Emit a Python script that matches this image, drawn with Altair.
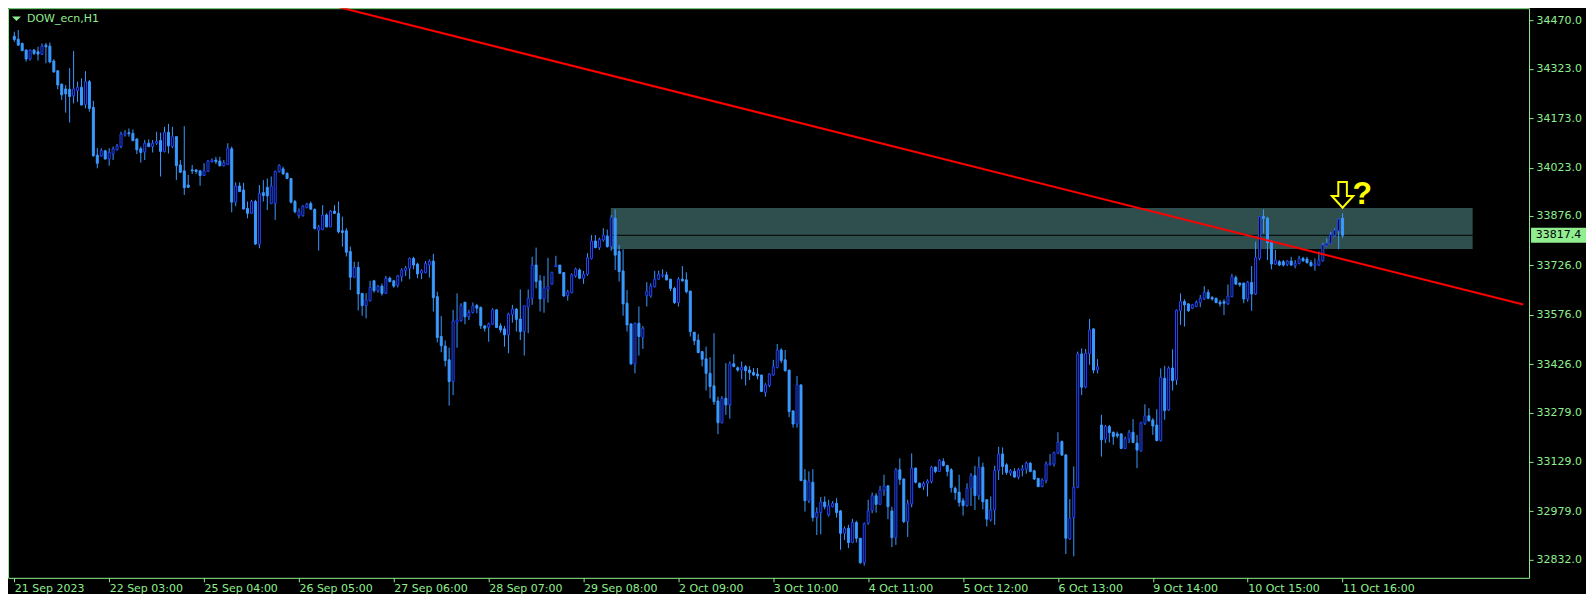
import json
import altair as alt
import pandas as pd

SYMBOL = "DOW_ecn,H1"

OPEN = [34422,34413,34400,34380,34353,34380,34375,34367,34395,34392,34347,34317,34276,34262,34261,34241,34257,34267,34215,34284,
34206,34061,34058,34074,34049,34064,34077,34087,34123,34129,34127,34110,34080,34070,34097,34087,34097,34105,34072,34130,
34087,34117,34031,34013,33970,34016,34016,34013,33999,34011,34041,34046,34043,34029,34033,34080,33918,33967,33955,33899,
33884,33920,33790,33947,33963,33914,33914,34011,34019,34006,33990,33920,33877,33877,33902,33914,33896,33833,33835,33879,
33843,33891,33884,33831,33831,33768,33690,33720,33641,33604,33619,33679,33649,33663,33641,33687,33679,33666,33692,33710,
33717,33747,33730,33702,33704,33727,33739,33631,33510,33481,33439,33373,33553,33558,33614,33570,33583,33604,33598,33542,
33538,33547,33591,33542,33533,33515,33577,33593,33563,33525,33599,33626,33727,33679,33624,33653,33669,33722,33727,33704,
33634,33643,33694,33712,33687,33699,33747,33800,33780,33803,33815,33783,33869,33768,33709,33611,33548,33426,33550,33507,
33634,33633,33661,33684,33694,33697,33684,33656,33613,33684,33682,33648,33523,33499,33464,33442,33398,33360,33314,33248,
33322,33302,33427,33415,33408,33418,33408,33401,33396,33393,33340,33361,33393,33416,33469,33439,33408,33284,33244,33363,
33074,33011,33067,32960,32975,33007,32968,32993,33003,32980,32912,32927,32884,32945,32897,32823,32943,32981,33026,33000,
33042,33056,32980,32899,33105,33077,32948,33001,33110,33064,33054,33064,33069,33113,33100,33130,33118,33105,33049,33037,
33011,32996,33049,33087,33026,33113,33014,32953,32983,33103,33153,33120,33095,33100,33083,33103,33107,33125,33102,33079,
33054,33072,33120,33122,33155,33191,33150,32895,32960,33052,33457,33356,33457,33533,33408,33241,33198,33236,33219,33214,
33214,33170,33198,33219,33186,33162,33246,33269,33256,33241,33194,33383,33287,33414,33378,33588,33616,33609,33596,33601,
33613,33624,33644,33628,33626,33614,33616,33609,33631,33689,33672,33672,33624,33674,33639,33747,33874,33869,33798,33730,
33737,33737,33729,33739,33725,33732,33747,33745,33735,33725,33727,33740,33785,33793,33816,33831,33869]

HIGH = [34436,34441,34403,34382,34382,34383,34390,34400,34402,34403,34352,34319,34279,34274,34325,34377,34284,34294,34316,34289,
34226,34082,34082,34077,34082,34087,34095,34132,34137,34142,34139,34112,34087,34107,34109,34107,34132,34129,34147,34156,
34147,34117,34046,34149,34001,34031,34018,34016,34036,34046,34051,34056,34056,34046,34097,34087,33978,33978,33977,33920,
33925,33925,33970,33985,33990,33996,34014,34033,34026,34008,33990,33925,33899,33909,33916,33920,33899,33849,33909,33884,
33894,33909,33920,33874,33839,33783,33737,33737,33641,33641,33679,33682,33666,33671,33694,33692,33682,33697,33717,33724,
33750,33752,33734,33714,33739,33744,33761,33646,33572,33498,33476,33591,33641,33611,33614,33591,33613,33609,33601,33545,
33552,33596,33593,33550,33542,33582,33606,33596,33653,33603,33653,33752,33780,33697,33694,33749,33707,33755,33727,33704,
33651,33702,33719,33717,33709,33763,33818,33818,33810,33839,33835,33879,33896,33788,33775,33651,33550,33552,33601,33542,
33675,33671,33709,33710,33714,33707,33685,33661,33690,33724,33705,33648,33523,33517,33466,33479,33447,33520,33327,33329,
33429,33434,33456,33419,33434,33423,33420,33414,33414,33393,33368,33398,33439,33487,33474,33469,33408,33284,33390,33363,
33107,33100,33107,32991,33022,33024,33014,33010,33019,32983,32933,32938,32956,32950,32897,32945,33014,33036,33034,33056,
33090,33059,32993,33110,33140,33079,33014,33155,33112,33066,33069,33076,33117,33115,33137,33140,33120,33110,33054,33090,
33019,33064,33095,33117,33145,33127,33016,33024,33117,33175,33173,33125,33107,33110,33110,33120,33130,33128,33105,33079,
33079,33130,33153,33160,33219,33194,33153,33016,33115,33464,33474,33472,33563,33535,33441,33272,33241,33241,33221,33221,
33216,33206,33226,33259,33211,33251,33304,33292,33262,33289,33413,33421,33419,33471,33592,33641,33623,33611,33609,33619,
33636,33663,33653,33633,33628,33621,33623,33668,33700,33695,33674,33674,33679,33724,33798,33874,33896,33874,33803,33773,
33742,33742,33742,33752,33742,33755,33752,33752,33742,33747,33768,33795,33808,33828,33838,33869,33884]

LOW = [34405,34393,34378,34345,34348,34365,34348,34365,34340,34340,34311,34261,34228,34190,34160,34218,34223,34213,34203,34193,
34056,34021,34056,34048,34029,34046,34075,34082,34117,34117,34103,34064,34038,34046,34085,34069,34092,33996,34069,34066,
34082,33985,34006,33940,33963,34004,34004,33968,33998,34011,34038,34034,34026,34026,34031,33887,33906,33950,33897,33869,
33882,33788,33778,33920,33894,33912,33864,34008,34001,33988,33914,33884,33869,33874,33899,33894,33835,33771,33833,33841,
33842,33882,33823,33783,33753,33651,33687,33589,33573,33565,33616,33643,33643,33634,33639,33674,33658,33659,33677,33694,
33684,33714,33687,33684,33702,33689,33586,33492,33462,33419,33300,33332,33476,33555,33547,33560,33580,33580,33533,33525,
33494,33545,33537,33522,33479,33459,33552,33525,33499,33452,33520,33606,33656,33586,33582,33613,33667,33722,33700,33631,
33619,33641,33689,33684,33670,33694,33744,33778,33773,33798,33780,33770,33712,33677,33573,33525,33423,33398,33452,33472,
33601,33628,33659,33682,33689,33680,33648,33609,33601,33677,33641,33510,33484,33459,33419,33346,33322,33302,33213,33246,
33272,33260,33416,33403,33380,33361,33378,33390,33380,33341,33327,33356,33391,33413,33429,33403,33265,33233,33233,33071,
32978,33004,32948,32907,32909,32985,32963,32991,32960,32862,32892,32867,32882,32884,32819,32814,32938,32973,32975,32998,
33026,32955,32870,32877,33059,32943,32901,32991,33064,33049,33044,33024,33064,33095,33098,33115,33085,33036,33014,32993,
32966,32993,32995,32983,33014,32985,32933,32948,32938,33074,33090,33090,33087,33080,33076,33085,33093,33097,33074,33052,
33052,33064,33118,33115,33153,33147,32849,32892,32842,33049,33332,33353,33424,33398,33398,33145,33186,33188,33181,33201,
33168,33168,33186,33186,33110,33160,33241,33251,33211,33191,33191,33257,33284,33346,33363,33545,33540,33585,33593,33599,
33599,33621,33623,33619,33611,33601,33575,33606,33629,33667,33661,33611,33616,33588,33636,33742,33823,33742,33714,33727,
33724,33722,33724,33724,33717,33729,33737,33732,33722,33710,33724,33737,33783,33791,33813,33775,33810]

CLOSE = [34412,34395,34378,34353,34380,34370,34368,34392,34390,34344,34314,34274,34244,34247,34239,34262,34267,34213,34284,34203,
34059,34036,34075,34049,34069,34080,34089,34125,34129,34126,34105,34077,34069,34097,34087,34097,34102,34072,34130,34089,
34117,34029,34009,33962,33963,34013,34011,33999,34014,34043,34046,34041,34029,34038,34082,33918,33967,33950,33897,33884,
33920,33791,33945,33938,33937,33967,34011,34029,34004,33990,33918,33889,33891,33906,33912,33897,33838,33843,33879,33843,
33891,33884,33828,33826,33766,33690,33720,33639,33604,33621,33659,33649,33663,33641,33687,33677,33663,33694,33712,33718,
33747,33727,33700,33710,33732,33739,33628,33507,33482,33437,33373,33557,33560,33604,33570,33583,33603,33596,33543,33535,
33548,33591,33537,33530,33515,33578,33593,33562,33525,33603,33626,33727,33677,33624,33658,33663,33704,33727,33702,33633,
33646,33697,33715,33687,33699,33749,33800,33780,33805,33818,33783,33872,33757,33707,33609,33545,33427,33550,33510,33535,
33648,33663,33684,33699,33697,33682,33656,33613,33684,33679,33646,33525,33497,33461,33441,33398,33358,33312,33248,33322,
33302,33427,33419,33408,33416,33406,33400,33393,33390,33343,33363,33396,33418,33469,33437,33406,33282,33244,33363,33072,
33011,33071,32960,32976,33007,32993,32996,33003,32975,32912,32927,32884,32945,32897,32823,32941,32980,33026,33000,33044,
33056,32993,32899,33105,33076,32948,33002,33110,33067,33052,33064,33071,33113,33100,33133,33118,33100,33051,33036,33006,
32996,33049,33087,33027,33113,33008,32955,32983,33103,33153,33115,33097,33102,33083,33105,33108,33125,33100,33077,33054,
33074,33123,33125,33157,33189,33150,32897,32958,33052,33457,33356,33459,33530,33408,33418,33196,33236,33218,33206,33208,
33170,33199,33219,33188,33165,33248,33269,33254,33238,33194,33386,33285,33414,33376,33590,33616,33606,33588,33606,33614,
33626,33644,33626,33624,33613,33609,33611,33633,33692,33669,33667,33624,33675,33639,33750,33874,33869,33795,33730,33742,
33727,33727,33739,33727,33732,33747,33740,33734,33725,33730,33742,33788,33793,33820,33833,33867,33817.4]

X_TICK_BARS = [0, 24, 48, 72, 96, 120, 144, 168, 192, 216, 240, 264, 288, 312, 336]
X_TICK_LABELS = ["21 Sep 2023", "22 Sep 03:00", "25 Sep 04:00", "26 Sep 05:00", "27 Sep 06:00",
                 "28 Sep 07:00", "29 Sep 08:00", "2 Oct 09:00", "3 Oct 10:00", "4 Oct 11:00",
                 "5 Oct 12:00", "6 Oct 13:00", "9 Oct 14:00", "10 Oct 15:00", "11 Oct 16:00"]
Y_TICK_VALUES = [34470.0, 34323.0, 34173.0, 34023.0, 33876.0, 33726.0,
                 33576.0, 33426.0, 33279.0, 33129.0, 32979.0, 32832.0]

BID = 33817.4
TREND_BARS = [0.0, 381.7]
TREND_PRICES = [34758.0, 33607.0]
ZONE_BARS = [150.9, 368.9]
ZONE_PRICES = [33775.6, 33900.0]
ARROW_BAR = 336
ARROW_PRICE = 33940.0
QMARK_BAR = 341
QMARK_PRICE = 33944.0

# ---- styles ----
W, H = 1522, 570
X_DOMAIN = [-0.325, 381.9]
Y_DOMAIN = [32776.8, 34507.3]
GREEN = "#90EE90"
BEAR = "#3A9AFF"
BULL_LINE = "#2244FF"
WICK = "#3A9AFF"
ZONE = "#2F4F4F"
FONT = "DejaVu Sans"
ARROW_SHAPE = "M-0.4,-1.2L0.4,-1.2L0.4,0.1L1,0.1L0,1.2L-1,0.1L-0.4,0.1Z"

n = len(OPEN)
df = pd.DataFrame({"i": list(range(n)), "o": OPEN, "h": HIGH, "l": LOW, "c": CLOSE})

XS = alt.Scale(domain=X_DOMAIN, nice=False, zero=False)
YS = alt.Scale(domain=Y_DOMAIN, nice=False, zero=False)

label_expr = "[" + ",".join(json.dumps(s) for s in X_TICK_LABELS) + "][indexof(" + json.dumps(X_TICK_BARS) + ", datum.value)]"

XA = alt.Axis(values=X_TICK_BARS, labelExpr=label_expr, title=None, grid=False, domain=False,
              ticks=True, tickSize=4, tickColor=GREEN, labelColor=GREEN, labelFont=FONT,
              labelFontSize=11, labelAlign="left", labelBaseline="top", labelPadding=1,
              labelOverlap=False, labelFlush=False, labelBound=False)
YA = alt.Axis(orient="right", values=Y_TICK_VALUES, format=".1f", title=None, grid=False,
              domain=False, ticks=True, tickSize=4, tickColor=GREEN, labelColor=GREEN,
              labelFont=FONT, labelFontSize=11, labelPadding=3, labelOverlap=False,
              labelFlush=False, labelBound=False)


def X(f):
    return alt.X(f, type="quantitative", scale=XS, axis=XA)


def Y(f):
    return alt.Y(f, type="quantitative", scale=YS, axis=YA)


base = alt.Chart(df)

zone_df = pd.DataFrame({"x0": [ZONE_BARS[0]], "x1": [ZONE_BARS[1]],
                        "y0": [ZONE_PRICES[0]], "y1": [ZONE_PRICES[1]]})
zone = alt.Chart(zone_df).mark_rect(color=ZONE, opacity=1).encode(
    x=X("x0"), x2="x1", y=Y("y0"), y2="y1")

bid_df = pd.DataFrame({"p": [BID]})
bid = alt.Chart(bid_df).mark_rule(color="#000000", strokeWidth=1).encode(
    y=Y("p"), x=alt.value(1), x2=alt.value(W - 1))

wicks = base.mark_rule(color=WICK, strokeWidth=1).encode(x=X("i"), y=Y("l"), y2="h")

bears = base.transform_filter("datum.c < datum.o").mark_bar(
    size=2, color=BEAR, stroke=BEAR, strokeWidth=1).encode(x=X("i"), y=Y("o"), y2="c")
bulls = base.transform_filter("datum.c >= datum.o").mark_bar(
    size=2, fill="#000000", stroke=BULL_LINE, strokeWidth=1).encode(x=X("i"), y=Y("o"), y2="c")

trend_df = pd.DataFrame({"i": TREND_BARS, "p": TREND_PRICES})
trend = alt.Chart(trend_df).mark_line(color="#FF0000", strokeWidth=2, clip=True).encode(
    x=X("i"), y=Y("p"))

arrow_df = pd.DataFrame({"i": [ARROW_BAR], "p": [ARROW_PRICE]})
arrow = alt.Chart(arrow_df).mark_point(shape=ARROW_SHAPE, size=460, filled=False,
                                       stroke="#FFFF00", strokeWidth=2, opacity=1).encode(
    x=X("i"), y=Y("p"))
q_df = pd.DataFrame({"i": [QMARK_BAR], "p": [QMARK_PRICE]})
qmark = alt.Chart(q_df).mark_text(text="?", font="Liberation Sans", fontSize=32, fontWeight="bold",
                                  color="#FFFF00", align="center", baseline="middle").encode(
    x=X("i"), y=Y("p"))

title_df = pd.DataFrame({"t": [SYMBOL]})
title = alt.Chart(title_df).mark_text(font=FONT, fontSize=11, color=GREEN, align="left",
                                      baseline="middle").encode(
    text="t:N", x=alt.value(19), y=alt.value(10.5))
tri = alt.Chart(title_df).mark_point(shape="M-1,-0.5L1,-0.5L0,0.5Z", filled=True, size=81,
                                     color=GREEN, opacity=1).encode(
    x=alt.value(8.5), y=alt.value(10.5))

box_df = pd.DataFrame({"p": [BID], "lab": [f"{BID:.1f}"]})
box = alt.Chart(box_df).transform_calculate(
    top="datum.p + 22.8", bot="datum.p - 22.8").mark_rect(color=GREEN, opacity=1).encode(
    x=alt.value(W + 2), x2=alt.value(W + 57), y=Y("top"), y2="bot")
box_text = alt.Chart(box_df).mark_text(font=FONT, fontSize=11, color="#000000", align="center",
                                       baseline="middle").encode(
    text="lab:N", x=alt.value(W + 29.5), y=Y("p"))

chart = alt.layer(zone, bid, wicks, bears, bulls, trend, arrow, qmark, title, tri, box, box_text).properties(
    width=W, height=H, padding=0, background="#000000"
).configure_view(stroke=GREEN, strokeWidth=1)

chart.save("out.html", embed_options={"renderer": "svg", "actions": False})
